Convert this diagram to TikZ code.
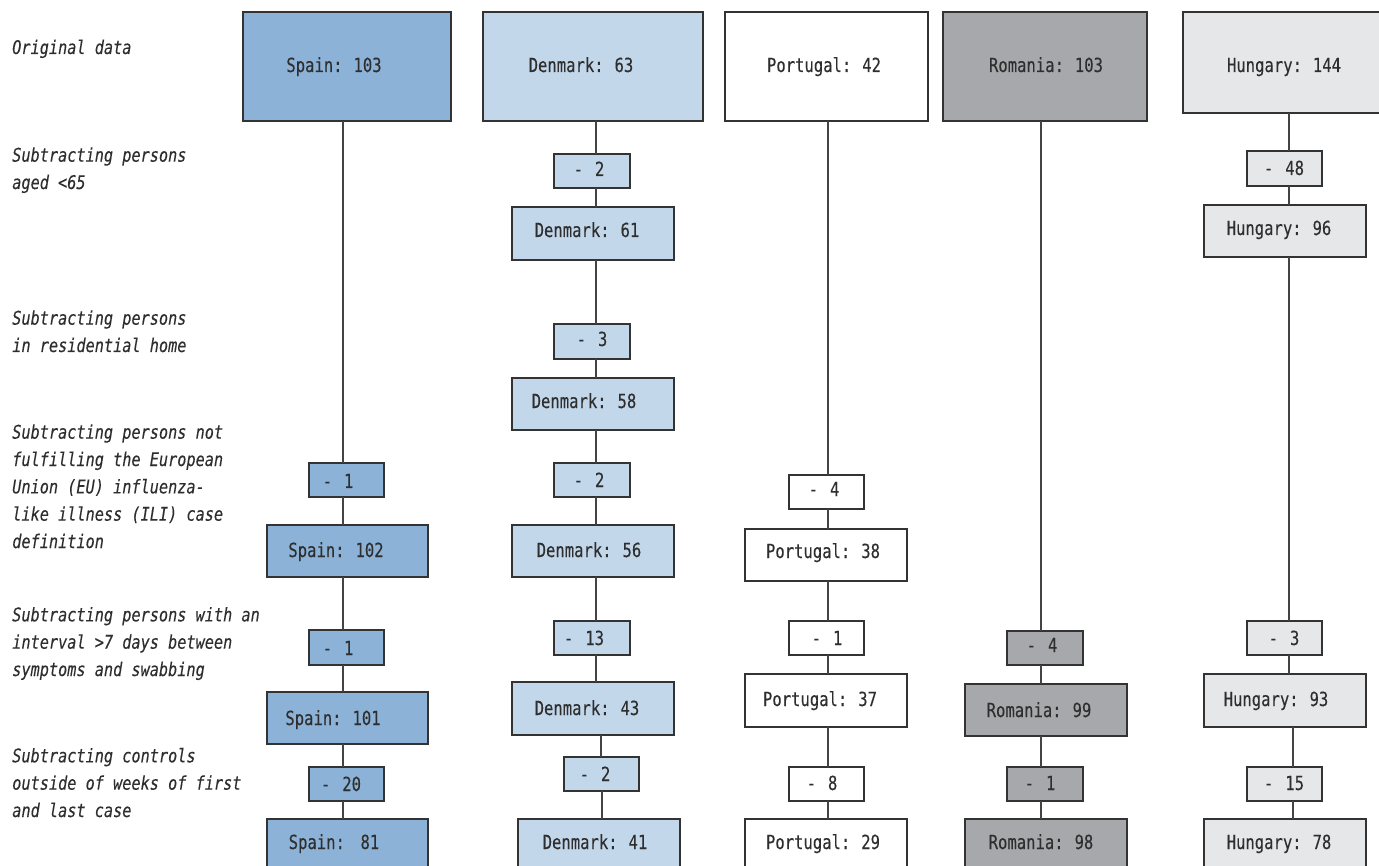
\documentclass[tikz,border=0pt]{standalone}
\usepackage{fontspec}
\setmainfont[FakeStretch=0.81,FakeBold=0.1,ItalicFont={DejaVu Sans Mono Oblique}]{DejaVu Sans Mono}
\newfontfamily\boxfont[FakeStretch=0.8,FakeBold=0.2]{DejaVu Sans Mono}
\newcommand\bxfont{\fontsize{14.6pt}{20.5pt}\boxfont\spaceskip 0.4em\relax}
\definecolor{spainc}{HTML}{8CB2D7}
\definecolor{denc}{HTML}{C3D7EB}
\definecolor{portc}{HTML}{FFFFFF}
\definecolor{romc}{HTML}{A7A8AC}
\definecolor{hunc}{HTML}{E6E7E9}
\definecolor{bordc}{HTML}{333333}
\definecolor{linec}{HTML}{444444}
\definecolor{txtc}{HTML}{2E2E2E}
\newcommand\bx[9]{%
  \node[bxs, fill=#6, minimum width={(#4-#2)*0.75pt}, minimum height={(#5-#3)*0.75pt}] (#1) at ({(#2+#4)/2},{(#3+#5)/2}) {};
  \node[txt] (#1t) at (#7,{#8+7}) {#9};}
\newcommand\mn[1]{-\hspace{9pt}#1}
\begin{document}
\begin{tikzpicture}[x=0.75pt,y=-0.75pt,
  bxs/.style={draw=bordc, line width=1pt, inner sep=0pt, outer sep=0pt},
  txt/.style={anchor=base, inner sep=0pt, text=txtc, font=\bxfont},
  lab/.style={anchor=base west, align=left, inner sep=0pt, text=txtc, font=\fontsize{14.1pt}{20.5pt}\selectfont\itshape},
  conn/.style={draw=linec, line width=0.8pt}]
\useasboundingbox[fill=white] (0,0) rectangle (1379,866);

% row labels (anchor at the baseline of the last line)
\node[lab] (l1) at (12,54) {Original data};
\node[lab] (l2) at (12,189) {Subtracting persons\\aged <65};
\node[lab] (l3) at (12,352) {Subtracting persons\\in residential home};
\node[lab] (l4) at (12,548) {Subtracting persons not\\fulfilling the European\\Union (EU) influenza-\\like illness (ILI) case\\definition};
\node[lab] (l5) at (12,676) {Subtracting persons with an\\interval >7 days between\\symptoms and swabbing};
\node[lab] (l6) at (12,817) {Subtracting controls\\outside of weeks of first\\and last case};

% column line positions
\coordinate (sp) at (343,0);
\coordinate (dk) at (596,0);
\coordinate (dkb) at (601,0);
\coordinate (dkc) at (602,0);
\coordinate (pt) at (828,0);
\coordinate (ro) at (1041,0);
\coordinate (hu) at (1289,0);
\coordinate (hub) at (1293,0);

% Spain
\bx{s0}{243}{12}{451}{121}{spainc}{334}{65}{Spain: 103}
\bx{s1}{309}{463}{384}{497}{spainc}{338}{481}{\mn{1}}
\bx{s2}{267}{525}{428}{577}{spainc}{336}{550}{Spain: 102}
\bx{s3}{309}{630}{384}{665}{spainc}{338}{648}{\mn{1}}
\bx{s4}{267}{692}{428}{744}{spainc}{333}{718}{Spain: 101}
\bx{s5}{309}{767}{384}{801}{spainc}{341}{784}{\mn{20}}
\bx{s6}{267}{819}{428}{871}{spainc}{334}{842}{Spain:\ \ 81}

% Denmark
\bx{d0}{483}{12}{703}{121}{denc}{581}{65}{Denmark: 63}
\bx{d1}{554}{154}{630}{188}{denc}{589}{169}{\mn{2}}
\bx{d2}{512}{207}{674}{260}{denc}{587}{230}{Denmark: 61}
\bx{d3}{554}{324}{630}{359}{denc}{592}{339}{\mn{3}}
\bx{d4}{512}{378}{674}{430}{denc}{584}{401}{Denmark: 58}
\bx{d5}{554}{463}{630}{497}{denc}{589}{480}{\mn{2}}
\bx{d6}{512}{525}{674}{577}{denc}{589}{550}{Denmark: 56}
\bx{d7}{554}{621}{630}{655}{denc}{584}{638}{\mn{13}}
\bx{d8}{512}{682}{674}{735}{denc}{587}{708}{Denmark: 43}
\bx{d9}{564}{757}{639}{791}{denc}{595}{774}{\mn{2}}
\bx{d10}{518}{819}{680}{871}{denc}{595}{842}{Denmark: 41}

% Portugal
\bx{p0}{725}{12}{928}{121}{portc}{824}{65}{Portugal: 42}
\bx{p1}{789}{475}{864}{509}{portc}{824}{489}{\mn{4}}
\bx{p2}{745}{529}{907}{581}{portc}{823}{551}{Portugal: 38}
\bx{p3}{789}{621}{864}{655}{portc}{827}{638}{\mn{1}}
\bx{p4}{745}{674}{907}{727}{portc}{820}{699}{Portugal: 37}
\bx{p5}{789}{767}{864}{801}{portc}{822}{783}{\mn{8}}
\bx{p6}{745}{819}{907}{871}{portc}{823}{842}{Portugal: 29}

% Romania
\bx{r0}{943}{12}{1147}{121}{romc}{1046}{65}{Romania: 103}
\bx{r1}{1007}{631}{1083}{665}{romc}{1042}{645}{\mn{4}}
\bx{r2}{965}{684}{1127}{736}{romc}{1039}{710}{Romania: 99}
\bx{r3}{1007}{767}{1083}{801}{romc}{1040}{783}{\mn{1}}
\bx{r4}{965}{819}{1127}{871}{romc}{1041}{842}{Romania: 98}

% Hungary
\bx{h0}{1183}{12}{1390}{113}{hunc}{1284}{65}{Hungary: 144}
\bx{h1}{1247}{151}{1322}{186}{hunc}{1284}{168}{\mn{48}}
\bx{h2}{1204}{205}{1366}{257}{hunc}{1279}{228}{Hungary: 96}
\bx{h3}{1247}{621}{1322}{655}{hunc}{1284}{638}{\mn{3}}
\bx{h4}{1204}{674}{1366}{727}{hunc}{1276}{699}{Hungary: 93}
\bx{h5}{1247}{767}{1322}{801}{hunc}{1284}{783}{\mn{15}}
\bx{h6}{1204}{819}{1366}{871}{hunc}{1279}{842}{Hungary: 78}

% connectors
\draw[conn] (s0.south -| sp) -- (s1.north -| sp);
\draw[conn] (s1.south -| sp) -- (s2.north -| sp);
\draw[conn] (s2.south -| sp) -- (s3.north -| sp);
\draw[conn] (s3.south -| sp) -- (s4.north -| sp);
\draw[conn] (s4.south -| sp) -- (s5.north -| sp);
\draw[conn] (s5.south -| sp) -- (s6.north -| sp);

\draw[conn] (d0.south -| dk) -- (d1.north -| dk);
\draw[conn] (d1.south -| dk) -- (d2.north -| dk);
\draw[conn] (d2.south -| dk) -- (d3.north -| dk);
\draw[conn] (d3.south -| dk) -- (d4.north -| dk);
\draw[conn] (d4.south -| dk) -- (d5.north -| dk);
\draw[conn] (d5.south -| dk) -- (d6.north -| dk);
\draw[conn] (d6.south -| dk) -- (d7.north -| dk);
\draw[conn] (d7.south -| dk) -- (d8.north -| dk);
\draw[conn] (d8.south -| dkb) -- (d9.north -| dkb);
\draw[conn] (d9.south -| dkc) -- (d10.north -| dkc);

\draw[conn] (p0.south -| pt) -- (p1.north -| pt);
\draw[conn] (p1.south -| pt) -- (p2.north -| pt);
\draw[conn] (p2.south -| pt) -- (p3.north -| pt);
\draw[conn] (p3.south -| pt) -- (p4.north -| pt);
\draw[conn] (p4.south -| pt) -- (p5.north -| pt);
\draw[conn] (p5.south -| pt) -- (p6.north -| pt);

\draw[conn] (r0.south -| ro) -- (r1.north -| ro);
\draw[conn] (r1.south -| ro) -- (r2.north -| ro);
\draw[conn] (r2.south -| ro) -- (r3.north -| ro);
\draw[conn] (r3.south -| ro) -- (r4.north -| ro);

\draw[conn] (h0.south -| hu) -- (h1.north -| hu);
\draw[conn] (h1.south -| hu) -- (h2.north -| hu);
\draw[conn] (h2.south -| hu) -- (h3.north -| hu);
\draw[conn] (h3.south -| hu) -- (h4.north -| hu);
\draw[conn] (h4.south -| hub) -- (h5.north -| hub);
\draw[conn] (h5.south -| hub) -- (h6.north -| hub);
\end{tikzpicture}
\end{document}
